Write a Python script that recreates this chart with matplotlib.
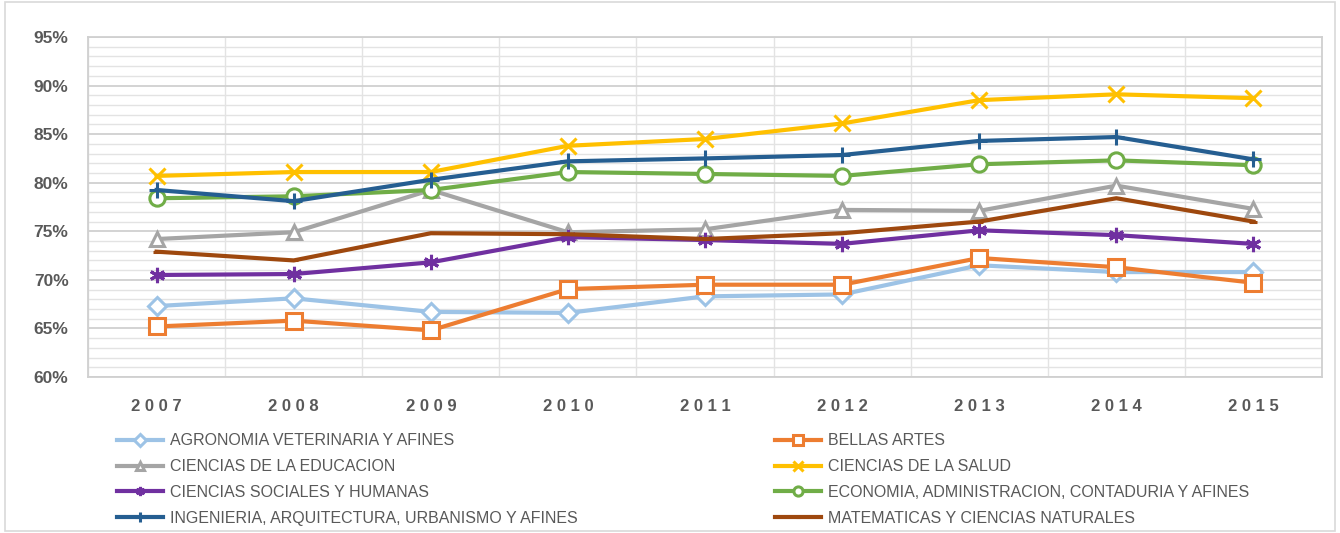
import matplotlib
matplotlib.use("Agg")
import matplotlib.pyplot as plt
from matplotlib.patches import Rectangle
from matplotlib.ticker import MultipleLocator, FuncFormatter

years = ["2007", "2008", "2009", "2010", "2011", "2012", "2013", "2014", "2015"]

agronomia = [67.3, 68.1, 66.7, 66.6, 68.3, 68.5, 71.5, 70.8, 70.8]
bellas_artes = [65.2, 65.8, 64.8, 69.05, 69.5, 69.5, 72.25, 71.3, 69.7]
educacion = [74.2, 74.9, 79.25, 74.9, 75.2, 77.2, 77.1, 79.7, 77.3]
salud = [80.7, 81.1, 81.1, 83.8, 84.5, 86.1, 88.5, 89.1, 88.7]
sociales = [70.5, 70.6, 71.8, 74.4, 74.1, 73.7, 75.1, 74.6, 73.7]
economia = [78.4, 78.6, 79.25, 81.1, 80.9, 80.7, 81.9, 82.3, 81.8]
ingenieria = [79.25, 78.1, 80.3, 82.2, 82.5, 82.85, 84.3, 84.7, 82.4]
matematicas = [72.9, 72.0, 74.8, 74.7, 74.2, 74.8, 76.0, 78.4, 76.0]

names = [
    "AGRONOMIA VETERINARIA Y AFINES",
    "BELLAS ARTES",
    "CIENCIAS DE LA EDUCACION",
    "CIENCIAS DE LA SALUD",
    "CIENCIAS SOCIALES Y HUMANAS",
    "ECONOMIA, ADMINISTRACION, CONTADURIA Y AFINES",
    "INGENIERIA, ARQUITECTURA, URBANISMO Y AFINES",
    "MATEMATICAS Y CIENCIAS NATURALES",
]
series = [agronomia, bellas_artes, educacion, salud, sociales, economia, ingenieria, matematicas]
colors = ["#9DC3E6", "#ED7D31", "#A5A5A5", "#FFC000", "#7030A0", "#70AD47", "#255E91", "#9E480E"]
markers = ["D", "s", "^", "x", (6, 2, 0), "o", "+", "_"]
msizes = [9.5, 11.5, 10.5, 11, 11, 11, 12, 6]
filled = [False, False, False, True, True, False, True, True]

plt.rcParams['font.family'] = ['Liberation Sans', 'DejaVu Sans']

fig = plt.figure(figsize=(13.4, 5.33), dpi=100)
fig.add_artist(Rectangle((0.004, 0.004), 0.992, 0.992, transform=fig.transFigure,
                         fill=False, edgecolor="#D9D9D9", lw=1.2))
ax = fig.add_axes([0.0657, 0.2927, 0.9209, 0.6379])

x = list(range(len(years)))
handles = []
for s, c, m, ms, f, n in zip(series, colors, markers, msizes, filled, names):
    kw = dict(color=c, lw=3, marker=m, markersize=ms, markeredgecolor=c,
              markeredgewidth=2.2, label=n, zorder=3)
    if not f:
        kw["markerfacecolor"] = "white"
    h, = ax.plot(x, s, **kw)
    handles.append(h)

ax.set_xlim(-0.5, 8.5)
ax.set_ylim(60, 95)
ax.yaxis.set_major_locator(MultipleLocator(5))
ax.yaxis.set_minor_locator(MultipleLocator(1))
ax.yaxis.set_major_formatter(FuncFormatter(lambda v, p: f"{int(round(v))}%"))
ax.set_xticks(x)
ax.set_xticklabels([" ".join(y) for y in years])
ax.set_xticks([i - 0.5 for i in range(10)], minor=True)

ax.grid(which="major", axis="y", color="#D0D0D0", lw=1.3)
ax.grid(which="minor", axis="y", color="#E3E3E3", lw=1.0)
ax.grid(which="minor", axis="x", color="#E3E3E3", lw=1.0)
ax.set_axisbelow(True)
for sp in ax.spines.values():
    sp.set_color("#D0D0D0")
    sp.set_linewidth(1.3)

ax.tick_params(axis="both", which="both", length=0)
ax.tick_params(axis="y", pad=14, labelsize=12.5, labelcolor="#595959")
ax.tick_params(axis="x", pad=16, labelsize=12, labelcolor="#595959")
for t in ax.get_yticklabels() + ax.get_xticklabels():
    t.set_fontweight("bold")

left_idx = [0, 2, 4, 6]
right_idx = [1, 3, 5, 7]
for idxs, xpos in [(left_idx, 0.0873), (right_idx, 0.578)]:
    leg = fig.legend([handles[i] for i in idxs], [names[i] for i in idxs],
                     loc="upper left", bbox_to_anchor=(xpos, 0.187), frameon=False,
                     fontsize=11.5, handlelength=2.9, handletextpad=0.45,
                     labelspacing=0.68, borderaxespad=0, borderpad=0, markerscale=0.6)
    for t in leg.get_texts():
        t.set_color("#595959")

fig.savefig("out.png", dpi=100)
